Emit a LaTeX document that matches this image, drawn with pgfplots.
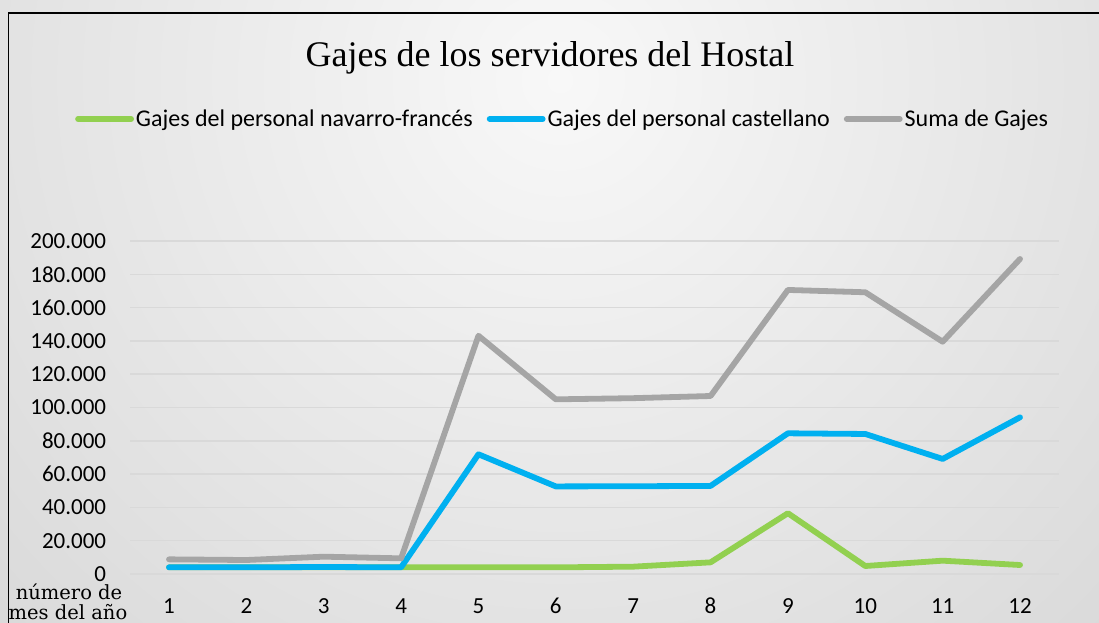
\documentclass[border=0pt]{standalone}
\usepackage{pgfplots}
\pgfplotsset{compat=1.18}
\usepackage{fontspec}
\setmainfont{Liberation Serif}
\newfontfamily\carlito{Carlito}
\newfontfamily\dvserif{DejaVu Serif}
\definecolor{cgreen}{HTML}{92D050}
\definecolor{cblue}{HTML}{00B0F0}
\definecolor{cgray}{HTML}{A5A5A5}
\definecolor{cgrid}{HTML}{D9D9D9}
\definecolor{bgin}{HTML}{F8F8F8}
\definecolor{bgout}{HTML}{BABABA}
\pgfdeclareradialshading{bgshade}{\pgfpoint{0bp}{0bp}}{color(0bp)=(bgin); color(50bp)=(bgout)}
\begin{document}
\begin{tikzpicture}
\useasboundingbox (0pt,0pt) rectangle (1099pt,623pt);
\clip (0pt,0pt) rectangle (1099pt,623pt);
\shade[shading=bgshade] (560pt,543pt) circle (800pt);
\draw[black, line width=1.6pt] (8.5pt,-20pt) -- (8.5pt,609.7pt) -- (1120pt,609.7pt);
\node[anchor=base, inner sep=0pt, font=\fontsize{36}{36}\selectfont] at (550pt,556pt) {Gajes de los servidores del Hostal};
\node[anchor=base, inner sep=0pt, font=\dvserif\fontsize{19.5}{19.5}\selectfont] at (69pt,23pt) {número de};
\node[anchor=base, inner sep=0pt, font=\dvserif\fontsize{19.5}{19.5}\selectfont] at (68pt,3pt) {mes del año};
\begin{axis}[
  at={(130.3pt,49pt)}, anchor=south west,
  scale only axis, width=928.4pt, height=333pt,
  xmin=0.5, xmax=12.5, ymin=0, ymax=200000,
  xtick={1,2,3,4,5,6,7,8,9,10,11,12},
  xticklabels={1,2,3,4,5,6,7,8,9,10,11,12},
  ytick={0,20000,40000,60000,80000,100000,120000,140000,160000,180000,200000},
  yticklabels={0,20.000,40.000,60.000,80.000,100.000,120.000,140.000,160.000,180.000,200.000},
  axis line style={draw=none}, major tick length=0pt,
  ymajorgrids, grid style={cgrid, line width=1.5pt},
  scaled y ticks=false,
  tick label style={font=\carlito\fontsize{23}{23}\selectfont},
  yticklabel style={anchor=east, inner sep=0pt, xshift=-24pt},
  xticklabel style={anchor=base, inner sep=0pt, yshift=-39pt},
  clip=false,
  legend columns=3,
  legend style={draw=none, fill=none, inner sep=0pt,
    at={(axis description cs:-0.0596,1.3664)}, anchor=west,
    font=\carlito\fontsize{24}{24}\selectfont,
    nodes={inner xsep=2pt, inner ysep=0pt},
    /tikz/every even column/.append style={column sep=12pt}},
  legend image code/.code={\draw[#1] (0pt,0pt) -- (53pt,0pt);},
  every axis plot/.append style={line width=5.8pt, line cap=round, line join=round},
]
\addplot[cgreen] coordinates {(1,4000) (2,4000) (3,4000) (4,4000) (5,4000) (6,4000) (7,4400) (8,7000) (9,36500) (10,4800) (11,8000) (12,5400)};
\addlegendentry{Gajes del personal navarro-francés}
\addplot[cblue] coordinates {(1,4000) (2,4000) (3,4200) (4,4000) (5,71900) (6,52600) (7,52700) (8,52900) (9,84500) (10,84100) (11,69100) (12,94100)};
\addlegendentry{Gajes del personal castellano}
\addplot[cgray] coordinates {(1,8800) (2,8400) (3,10400) (4,9400) (5,143100) (6,104900) (7,105600) (8,106900) (9,170600) (10,169200) (11,139500) (12,189200)};
\addlegendentry{Suma de Gajes}
\end{axis}
\end{tikzpicture}
\end{document}
